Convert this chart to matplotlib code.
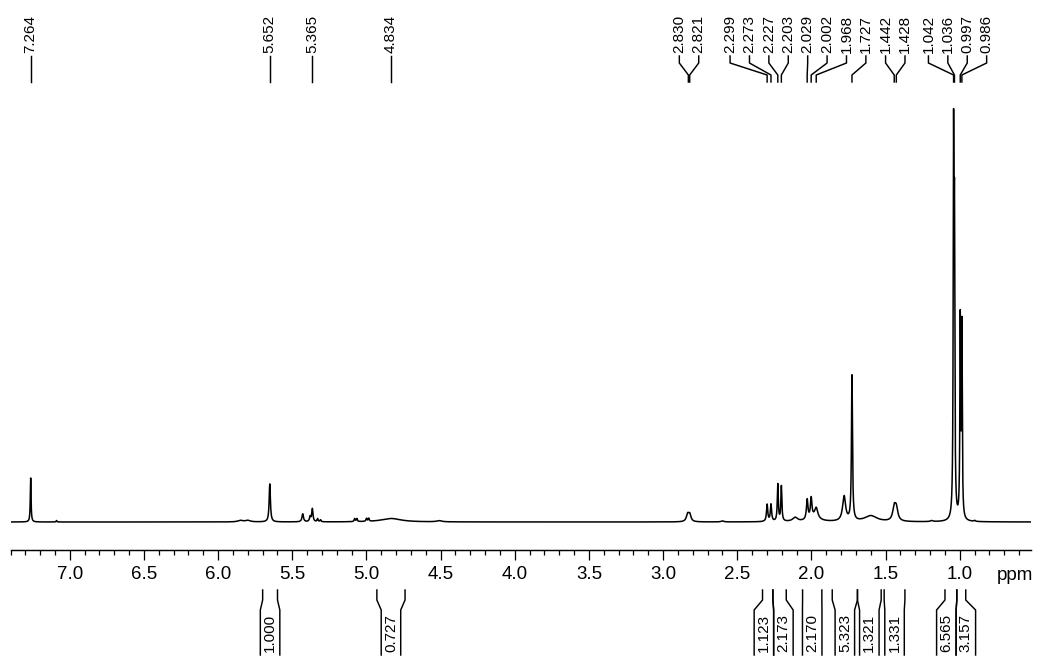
import numpy as np
import matplotlib
matplotlib.use('Agg')
import matplotlib.pyplot as plt
from matplotlib.ticker import MultipleLocator, FormatStrFormatter
from matplotlib.transforms import blended_transform_factory

# ---------------- data ----------------
# spectrum components: centre (ppm), height (a.u.), half-width (ppm)
peak_ppm = [7.264, 7.09, 5.85, 5.80, 5.652, 5.43, 5.38, 5.365, 5.33, 5.31,
            5.08, 5.065, 5.00, 4.985, 4.834, 4.51, 2.835, 2.821, 2.60,
            2.299, 2.273, 2.227, 2.203, 2.11, 2.029, 2.002, 1.968, 1.98,
            1.78, 1.727, 1.60, 1.442, 1.428, 1.19, 1.042, 1.036, 0.997,
            0.986, 0.90]
peak_height = [44, 1.5, 1.5, 1.5, 38, 8, 5, 13, 3, 2,
               3, 3, 3, 3, 3.5, 1.2, 7, 7, 1,
               17, 17, 37, 35, 4, 20, 20, 10, 4,
               25, 145, 6, 13, 12, 1, 357, 268, 196,
               190, 1]
peak_width = [0.003, 0.003, 0.02, 0.02, 0.005, 0.006, 0.005, 0.005, 0.004, 0.004,
              0.004, 0.004, 0.004, 0.004, 0.08, 0.02, 0.01, 0.01, 0.01,
              0.005, 0.005, 0.004, 0.004, 0.02, 0.006, 0.006, 0.012, 0.04,
              0.012, 0.004, 0.05, 0.012, 0.012, 0.01, 0.003, 0.003, 0.003,
              0.003, 0.005]

# picked peak labels
label_text = ['7.264', '5.652', '5.365', '4.834', '2.830', '2.821', '2.299',
              '2.273', '2.227', '2.203', '2.029', '2.002', '1.968', '1.727',
              '1.442', '1.428', '1.042', '1.036', '0.997', '0.986']

# integrals: region start, region end (ppm), value
int_hi = [5.70, 4.93, 2.33, 2.26, 2.06, 1.86, 1.69, 1.51, 1.10, 1.02]
int_lo = [5.60, 4.74, 2.26, 2.17, 1.93, 1.69, 1.53, 1.37, 1.02, 0.96]
int_val = ['1.000', '0.727', '1.123', '2.173', '2.170', '5.323', '1.321',
           '1.331', '6.565', '3.157']

x_ticks = [7.0, 6.5, 6.0, 5.5, 5.0, 4.5, 4.0, 3.5, 3.0, 2.5, 2.0, 1.5, 1.0]

# ---------------- figure ----------------
W, H = 1037, 657
fig = plt.figure(figsize=(W / 100, H / 100), dpi=100)
FONT = 'Liberation Sans'
LW = 1.05


def fy(py):
    return 1 - py / H


ax_left, ax_right = 10.5, 1031
xmin, xmax = 7.40, 0.52
ax = fig.add_axes([ax_left / W, fy(550), (ax_right - ax_left) / W, (550 - 95) / H])
ax.set_xlim(xmin, xmax)
ax.set_ylim(-28, 427)
ppm_per_px = (xmin - xmax) / (ax_right - ax_left)

x = np.linspace(xmin, xmax, 60000)
y = np.zeros_like(x)
for c, h, w in zip(peak_ppm, peak_height, peak_width):
    y += h / (1 + ((x - c) / w) ** 2)
ax.plot(x, y, color='black', lw=1.1)

for s in ['top', 'left', 'right']:
    ax.spines[s].set_visible(False)
ax.spines['bottom'].set_linewidth(LW)
ax.set_yticks([])
ax.set_xticks(x_ticks)
ax.xaxis.set_major_formatter(FormatStrFormatter('%.1f'))
ax.xaxis.set_minor_locator(MultipleLocator(0.1))
ax.tick_params(axis='x', which='major', direction='out', length=7.2, width=0.9,
               pad=4, labelsize=13.5)
ax.tick_params(axis='x', which='minor', direction='out', length=3.6, width=0.9)
for t in ax.get_xticklabels():
    t.set_fontfamily(FONT)

trans = blended_transform_factory(ax.transData, fig.transFigure)
ax.text(0.625, fy(576), 'ppm', transform=trans, ha='center', va='center',
        fontsize=13.5, family=FONT)


def spread(vals, gap):
    vals = np.asarray(vals, dtype=float)
    order = np.argsort(vals)
    v = vals[order]
    clusters = [[i] for i in range(len(v))]

    def pos(cl):
        m = v[cl].mean()
        n = len(cl)
        return [m + gap * (k - (n - 1) / 2) for k in range(n)]

    changed = True
    while changed:
        changed = False
        for j in range(len(clusters) - 1):
            a = pos(clusters[j])
            b = pos(clusters[j + 1])
            if b[0] - a[-1] < gap - 1e-9:
                clusters[j] = clusters[j] + clusters[j + 1]
                del clusters[j + 1]
                changed = True
                break
    out = np.empty(len(v))
    for cl in clusters:
        for idx, p in zip(cl, pos(cl)):
            out[order[idx]] = p
    return out


# peak labels on top
label_ppm = [float(t) for t in label_text]
label_pos = spread(label_ppm, 19.4 * ppm_per_px)
for t, p, lx in zip(label_text, label_ppm, label_pos):
    ax.text(lx, fy(53), t, transform=trans, rotation=90, ha='center',
            va='bottom', fontsize=11, family=FONT)
    ax.plot([lx, lx, p, p], [fy(56), fy(63), fy(75), fy(82)], transform=trans,
            clip_on=False, color='black', lw=LW)

# integrals below
int_mid = [(a + b) / 2 for a, b in zip(int_hi, int_lo)]
box_pos = spread(int_mid, 19.5 * ppm_per_px)
hw = 9.75 * ppm_per_px
for hi, lo, val, bc in zip(int_hi, int_lo, int_val, box_pos):
    ax.plot([hi, hi, bc + hw, bc + hw], [fy(590), fy(600), fy(610), fy(655)],
            transform=trans, clip_on=False, color='black', lw=LW)
    ax.plot([lo, lo, bc - hw, bc - hw], [fy(590), fy(600), fy(610), fy(655)],
            transform=trans, clip_on=False, color='black', lw=LW)
    ax.text(bc, fy(633), val, transform=trans, rotation=90, ha='center',
            va='center', fontsize=11, family=FONT)

fig.savefig('out.png', dpi=100, facecolor='white')
